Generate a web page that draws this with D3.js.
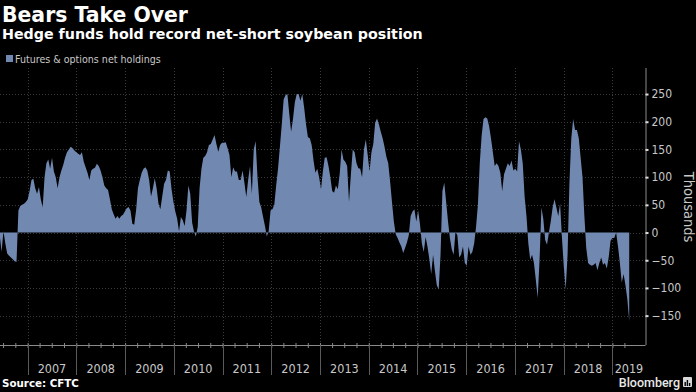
<!DOCTYPE html>
<html>
<head>
<meta charset="utf-8">
<script src="https://cdn.jsdelivr.net/npm/d3@7"></script>
<style>
  html, body { margin: 0; padding: 0; background: #000; }
  svg { display: block; }
  .cond { font-family: 'DejaVu Sans Condensed', 'DejaVu Sans', sans-serif; font-stretch: condensed; }
</style>
</head>
<body>
<div id="chart"></div>
<script>
// Futures & options net holdings (thousands of contracts), read every two weeks
const firstDate = new Date(2006, 5, 6);
const stepDays = 14;
const netHoldings = [
  -5, -35, 3, -20, -38, -42, -45, -48, -52, -53,
  40, 48, 50, 52, 55, 60, 75, 95, 97, 80,
  70, 82, 60, 45, 100, 125, 132, 115, 135, 110,
  100, 80, 100, 112, 122, 135, 145, 150, 155, 152,
  148, 145, 142, 140, 145, 128, 118, 108, 95, 112,
  115, 117, 124, 120, 112, 100, 85, 80, 77, 60,
  42, 33, 25, 30, 25, 30, 32, 38, 44, 46,
  40, 16, 14, 40, 80, 95, 108, 115, 118, 112,
  95, 65, 80, 98, 80, 52, 42, 65, 88, 95,
  112, 110, 78, 55, 38, 25, 2, 28, 22, 12,
  40, 85, 70, 18, 2, -7, 10, 80, 115, 135,
  138, 145, 158, 160, 168, 176, 160, 146, 158, 162,
  162, 163, 152, 140, 100, 118, 110, 110, 95, 95,
  112, 90, 64, 95, 120, 70, 150, 165, 100, 55,
  45, 28, 12, -7, 3, 40, 42, 50, 85, 115,
  155, 195, 240, 248, 250, 215, 182, 205, 235, 250,
  250, 238, 250, 225, 195, 172, 170, 158, 130, 108,
  115, 100, 78, 110, 135, 136, 120, 100, 75, 72,
  85, 78, 105, 150, 132, 128, 120, 55, 105, 150,
  145, 125, 116, 115, 100, 150, 168, 140, 110, 145,
  160, 198, 206, 195, 182, 170, 155, 137, 125, 92,
  55, 20, -3, -10, -18, -25, -37, -28, -18, -5,
  30, 38, 42, 20, 40, 15, -20, -35, -8, -25,
  -48, -75, -40, -70, -95, -103, -40, 75, 90, 55,
  20, -10, -30, -40, 2, -5, -45, -40, -25, -55,
  -60, -25, -40, -35, -20, 10, 50, 125, 175, 205,
  208, 206, 192, 170, 145, 120, 125, 120, 108, 75,
  105, 115, 125, 120, 130, 112, 115, 110, 165, 150,
  125, 65, 30, -20, -49, -40, -55, -85, -118, -50,
  45, 25, -13, -22, 0, 20, 45, 60, 45, 30,
  52, -10, -62, -103, -40, 90, 170, 205, 185, 185,
  170, 135, 100, 30, -28, -55, -58, -60, -58, -55,
  -68, -55, -45, -58, -55, -65, -45, -15, -10, -10,
  0, -25, -55, -90, -75, -95, -120, -160
];
const yTicks = [250, 200, 150, 100, 50, 0, -50, -100, -150];
const years = [2007, 2008, 2009, 2010, 2011, 2012, 2013, 2014, 2015, 2016, 2017, 2018, 2019];

const title = 'Bears Take Over';
const subtitle = 'Hedge funds hold record net-short soybean position';
const legendLabel = 'Futures & options net holdings';
const unitLabel = 'Thousands';
const sourceLabel = 'Source: CFTC';

const W = 696;
const H = 392;
const plot = { left: 0, right: 645.5, top: 68, bottom: 345 };
const areaColor = '#7189b1';
const gridColor = '#3a3a3a';
const textColor = '#c8c8c8';

const data = netHoldings.map((v, i) => ({
  date: d3.timeDay.offset(firstDate, i * stepDays),
  value: v,
}));

const x = d3.scaleTime()
  .domain([new Date(2007, 0, 1), new Date(2019, 0, 1)])
  .range([27.6, 612.4]);

const y = d3.scaleLinear()
  .domain([-203, 297])
  .range([plot.bottom, plot.top]);

const svg = d3.select('#chart')
  .append('svg')
  .attr('width', W)
  .attr('height', H);

svg.append('rect')
  .attr('width', W)
  .attr('height', H)
  .attr('fill', '#000');

// Titles
svg.append('text')
  .attr('x', 2)
  .attr('y', 21.5)
  .attr('fill', '#fff')
  .style('font-family', 'DejaVu Sans, sans-serif')
  .style('font-weight', 'bold')
  .style('font-size', '20.4px')
  .text(title);

svg.append('text')
  .attr('x', 2)
  .attr('y', 39)
  .attr('fill', '#fff')
  .style('font-family', 'DejaVu Sans, sans-serif')
  .style('font-weight', 'bold')
  .style('font-size', '14.25px')
  .text(subtitle);

// Legend
svg.append('rect')
  .attr('x', 6)
  .attr('y', 55)
  .attr('width', 7)
  .attr('height', 7)
  .attr('fill', areaColor);

svg.append('text')
  .attr('class', 'cond')
  .attr('x', 15)
  .attr('y', 62.5)
  .attr('fill', textColor)
  .style('font-size', '10.6px')
  .text(legendLabel);

// Grid
const grid = svg.append('g');

grid.selectAll('line.h')
  .data(yTicks)
  .enter()
  .append('line')
  .attr('class', 'h')
  .attr('x1', plot.left)
  .attr('x2', plot.right)
  .attr('y1', d => Math.round(y(d)) + 0.5)
  .attr('y2', d => Math.round(y(d)) + 0.5)
  .attr('stroke', gridColor)
  .attr('stroke-dasharray', '1,2');

grid.selectAll('line.v')
  .data(years)
  .enter()
  .append('line')
  .attr('class', 'v')
  .attr('x1', d => Math.round(x(new Date(d, 0, 1))) + 0.5)
  .attr('x2', d => Math.round(x(new Date(d, 0, 1))) + 0.5)
  .attr('y1', plot.top)
  .attr('y2', plot.bottom)
  .attr('stroke', gridColor)
  .attr('stroke-dasharray', '1,2');

// Area
const area = d3.area()
  .x(d => x(d.date))
  .y0(y(0))
  .y1(d => y(d.value));

svg.append('path')
  .datum(data)
  .attr('d', area)
  .attr('fill', areaColor);

// Right axis
const yAxis = svg.append('g')
  .attr('transform', `translate(${plot.right}, 0)`)
  .call(d3.axisRight(y).tickValues(yTicks).tickSize(3).tickPadding(3));

yAxis.select('.domain')
  .attr('d', `M0.5,${plot.top}V${plot.bottom}`)
  .attr('stroke', '#8a8a8a');
yAxis.selectAll('.tick line')
  .attr('stroke', '#dddddd')
  .attr('stroke-width', 2);
yAxis.selectAll('.tick text')
  .attr('class', 'cond')
  .attr('fill', textColor)
  .style('font-size', '12px');

svg.append('text')
  .attr('class', 'cond')
  .attr('transform', `translate(684, 207) rotate(90)`)
  .attr('text-anchor', 'middle')
  .attr('fill', textColor)
  .style('font-size', '14.5px')
  .text(unitLabel);

// Bottom axis
const quarters = d3.timeMonth.every(3).range(new Date(2006, 6, 1), new Date(2019, 6, 1));
const xAxis = svg.append('g')
  .attr('transform', `translate(0, ${plot.bottom})`)
  .call(d3.axisBottom(x).tickValues(quarters).tickSize(3).tickFormat(''));

xAxis.select('.domain')
  .attr('d', `M${plot.left},0.5H${plot.right}`)
  .attr('stroke', '#8a8a8a');
xAxis.selectAll('.tick line')
  .attr('y1', -2)
  .attr('stroke', '#8a8a8a');

svg.selectAll('line.sep')
  .data(years)
  .enter()
  .append('line')
  .attr('class', 'sep')
  .attr('x1', d => Math.round(x(new Date(d, 0, 1))) + 0.5)
  .attr('x2', d => Math.round(x(new Date(d, 0, 1))) + 0.5)
  .attr('y1', plot.bottom)
  .attr('y2', 375)
  .attr('stroke', '#5a5a5a');

svg.selectAll('text.year')
  .data(years)
  .enter()
  .append('text')
  .attr('class', 'year cond')
  .attr('x', d => {
    const a = x(new Date(d, 0, 1));
    const b = Math.min(x(new Date(d + 1, 0, 1)), plot.right);
    return (a + b) / 2;
  })
  .attr('y', 373)
  .attr('text-anchor', 'middle')
  .attr('fill', textColor)
  .style('font-size', '12.5px')
  .text(d => d);

// Footer
svg.append('text')
  .attr('x', 2)
  .attr('y', 387)
  .attr('fill', '#fff')
  .style('font-family', 'DejaVu Sans, sans-serif')
  .style('font-weight', 'bold')
  .style('font-size', '10.3px')
  .text(sourceLabel);

svg.append('text')
  .attr('x', 680)
  .attr('y', 387)
  .attr('text-anchor', 'end')
  .attr('fill', '#e8e8e8')
  .style('font-family', 'Roboto, sans-serif')
  .style('font-weight', 500)
  .style('font-size', '12.5px')
  .text('Bloomberg');

const logo = svg.append('g').attr('transform', 'translate(683, 377)');
logo.append('rect')
  .attr('width', 9)
  .attr('height', 10)
  .attr('rx', 1)
  .attr('fill', '#d8d8d8');
logo.selectAll('rect.bar')
  .data([4, 6, 3])
  .enter()
  .append('rect')
  .attr('class', 'bar')
  .attr('x', (d, i) => 1.5 + i * 2.2)
  .attr('y', d => 9 - d)
  .attr('width', 1.4)
  .attr('height', d => d)
  .attr('fill', '#000');
</script>
</body>
</html>
